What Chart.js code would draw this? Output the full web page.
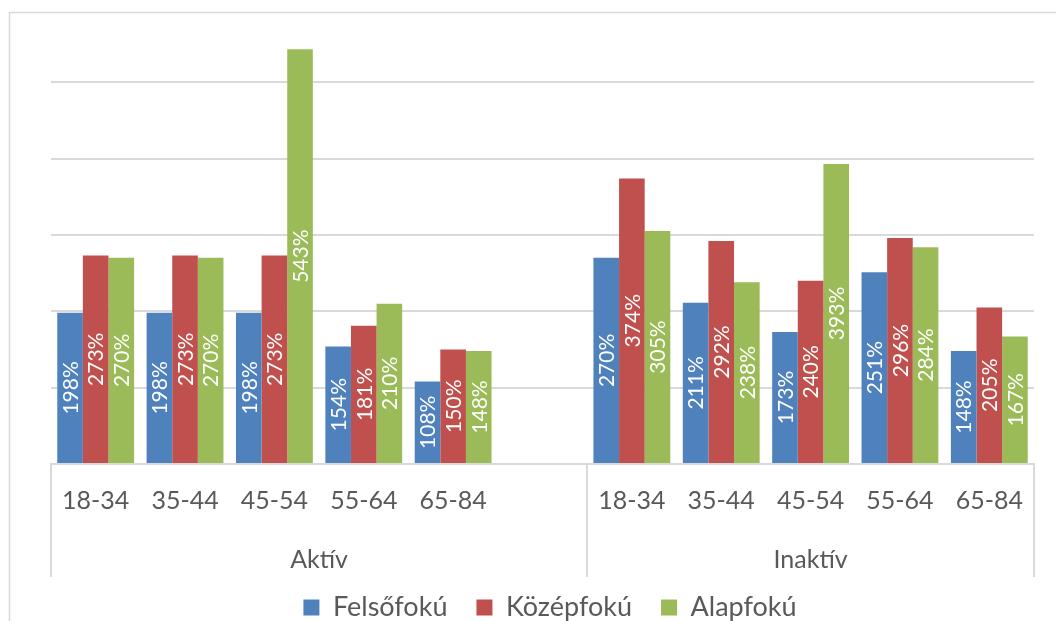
<!DOCTYPE html>
<html>
<head>
<meta charset="utf-8">
<script src="https://cdn.jsdelivr.net/npm/chart.js@4.4.1/dist/chart.umd.min.js"></script>
<style>
  html, body { margin: 0; padding: 0; background: #fff; overflow: hidden; }
  #wrap { width: 1056px; height: 621px; position: relative; }
</style>
</head>
<body>
<div id="wrap"><canvas id="c" width="1056" height="621"></canvas></div>
<script>
// Age bands (the empty slot separates the two activity groups)
const ageLabels = ['18-34', '35-44', '45-54', '55-64', '65-84', '', '18-34', '35-44', '45-54', '55-64', '65-84'];
const groupLabels = ['Aktív', 'Inaktív'];
const groupSizes = [6, 5];

const seriesNames = ['Felsőfokú', 'Középfokú', 'Alapfokú'];
const felsofoku = [198, 198, 198, 154, 108, null, 270, 211, 173, 251, 148];
const kozepfoku = [273, 273, 273, 181, 150, null, 374, 292, 240, 296, 205];
const alapfoku  = [270, 270, 543, 210, 148, null, 305, 238, 393, 284, 167];
const seriesColors = ['#4F81BD', '#C0504D', '#9BBB59'];

const gridTicks = [0, 100, 200, 300, 400, 500];

const FONT = 'Lato, "Open Sans", sans-serif';
const TEXT = '#595959';
const LINE = '#d9d9d9';

// white background and the outer frame of the chart
const framePlugin = {
  id: 'frame',
  beforeDraw(chart) {
    const ctx = chart.ctx;
    ctx.save();
    ctx.fillStyle = '#fff';
    ctx.fillRect(0, 0, chart.width, chart.height);
    ctx.strokeStyle = LINE;
    ctx.lineWidth = 1.5;
    ctx.beginPath();
    ctx.moveTo(9.5, chart.height);
    ctx.lineTo(9.5, 12.5);
    ctx.lineTo(chart.width, 12.5);
    ctx.stroke();
    ctx.restore();
  }
};

// value labels written vertically in the middle of each bar
const barValuePlugin = {
  id: 'barValues',
  afterDatasetsDraw(chart) {
    const ctx = chart.ctx;
    ctx.save();
    ctx.fillStyle = '#ffffff';
    ctx.font = '21px ' + FONT;
    ctx.textAlign = 'center';
    ctx.textBaseline = 'middle';
    chart.data.datasets.forEach((ds, di) => {
      const meta = chart.getDatasetMeta(di);
      meta.data.forEach((bar, i) => {
        const v = ds.data[i];
        if (v === null || v === undefined) return;
        ctx.save();
        ctx.translate(bar.x + 1, (bar.y + bar.base) / 2);
        ctx.rotate(-Math.PI / 2);
        ctx.fillText(v + '%', 0, 0);
        ctx.restore();
      });
    });
    ctx.restore();
  }
};

// second level of the category axis: group dividers and group names
const groupAxisPlugin = {
  id: 'groupAxis',
  afterDraw(chart) {
    const x = chart.scales.x;
    const ctx = chart.ctx;
    const step = (x.getPixelForValue(1) - x.getPixelForValue(0));
    const top = chart.chartArea.bottom;
    const bottom = top + 113;
    ctx.save();
    ctx.strokeStyle = LINE;
    ctx.lineWidth = 2;
    ctx.fillStyle = TEXT;
    ctx.font = '25px ' + FONT;
    ctx.textAlign = 'center';
    ctx.textBaseline = 'middle';
    let start = 0;
    const edges = [x.getPixelForValue(0) - step / 2];
    groupSizes.forEach((n, gi) => {
      const left = x.getPixelForValue(start) - step / 2;
      const right = x.getPixelForValue(start + n - 1) + step / 2;
      edges.push(right);
      ctx.fillText(groupLabels[gi], (left + right) / 2, top + 96);
      start += n;
    });
    edges.forEach(px => {
      ctx.beginPath();
      ctx.moveTo(Math.round(px), top);
      ctx.lineTo(Math.round(px), bottom);
      ctx.stroke();
    });
    ctx.restore();
  }
};

// legend sits slightly right of the canvas centre
const legendOffsetPlugin = {
  id: 'legendOffset',
  afterLayout(chart) {
    if (chart.legend) {
      chart.legend.left += 33;
      chart.legend.right += 33;
    }
  }
};

const seriesData = [felsofoku, kozepfoku, alapfoku];

new Chart(document.getElementById('c'), {
  type: 'bar',
  data: {
    labels: ageLabels,
    datasets: seriesNames.map((name, i) => ({
      label: name,
      data: seriesData[i],
      backgroundColor: seriesColors[i],
      borderWidth: 0,
      categoryPercentage: 0.86,
      barPercentage: 1.0
    }))
  },
  options: {
    responsive: false,
    devicePixelRatio: 1,
    animation: false,
    layout: { padding: { left: 0, right: 22, top: 44, bottom: -10 } },
    scales: {
      x: {
        grid: { display: false, drawTicks: false },
        border: { display: true, color: LINE, width: 2 },
        ticks: {
          autoSkip: false,
          maxRotation: 0,
          color: TEXT,
          font: { family: FONT, size: 25 },
          padding: 22
        },
        afterFit(scale) { scale.height = 101; }
      },
      y: {
        min: 0,
        max: 550,
        ticks: { display: false, stepSize: 100 },
        grid: { color: LINE, lineWidth: 2, drawTicks: false },
        border: { display: false },
        afterBuildTicks(scale) {
          scale.ticks = gridTicks.map(v => ({ value: v }));
        },
        afterFit(scale) { scale.width = 51; }
      }
    },
    plugins: {
      legend: {
        position: 'bottom',
        labels: {
          color: TEXT,
          font: { family: FONT, size: 27 },
          boxWidth: 16,
          boxHeight: 16,
          padding: 29
        }
      },
      tooltip: { enabled: false },
      title: { display: false }
    }
  },
  plugins: [framePlugin, barValuePlugin, groupAxisPlugin, legendOffsetPlugin]
});
</script>
</body>
</html>
